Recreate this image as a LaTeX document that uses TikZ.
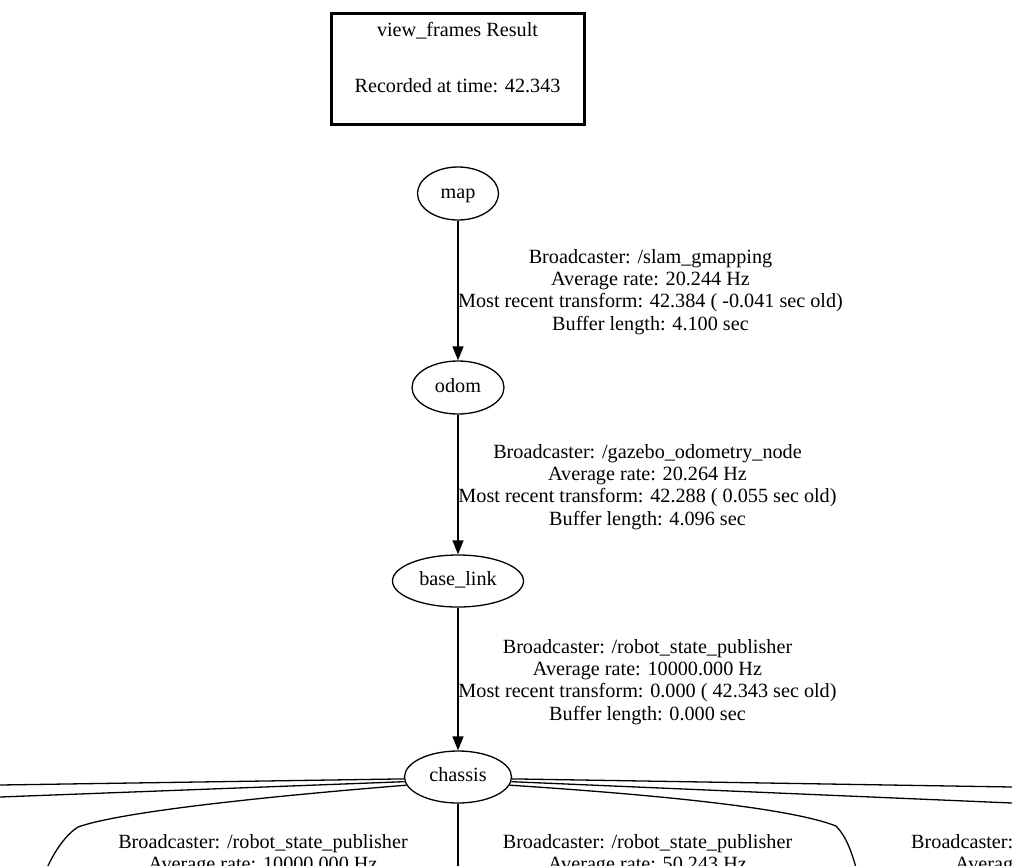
\documentclass[tikz,border=0pt]{standalone}
\usepackage{fontspec}
\setmainfont{Liberation Serif}
\usetikzlibrary{shapes.geometric,arrows.meta}
\newcommand{\gvfont}{\fontsize{20.2}{22.3}\selectfont}

\begin{document}
\begin{tikzpicture}[x=1pt,y=-1pt,
  frame/.style={ellipse,draw,line width=1.3pt,inner sep=0pt,font=\gvfont,text height=14pt,text depth=4.4pt},
  lbl/.style={align=center,inner sep=0pt,font=\gvfont},
  edge/.style={line width=1.3pt,-{Triangle[length=14pt,width=11pt]}},
  wire/.style={line width=1.3pt}]
\useasboundingbox (0,0) rectangle (1012,865);
\clip (0,0) rectangle (1012,865);

% header box
\node[draw,line width=3pt,minimum width=253pt,minimum height=111pt] (result) at (457.5,68.5) {};
\node[lbl] (resulttext) at (457.5,58) {view\_frames Result\\[33.7pt]Recorded at time: 42.343};

% frames
\node[frame,minimum width=81pt,minimum height=53pt] (map) at (458,193.5) {map};
\node[frame,minimum width=92pt,minimum height=53pt] (odom) at (458,387.5) {odom};
\node[frame,minimum width=131pt,minimum height=52pt] (baselink) at (458,581) {base\_link};
\node[frame,minimum width=107pt,minimum height=52pt] (chassis) at (458,777) {chassis};

\draw[edge] (map) -- (odom);
\draw[edge] (odom) -- (baselink);
\draw[edge] (baselink) -- (chassis);

% transform labels
\node[lbl] (tf1) at (650.5,292) {Broadcaster: /slam\_gmapping\\Average rate: 20.244 Hz\\Most recent transform: 42.384 ( -0.041 sec old)\\Buffer length: 4.100 sec};
\node[lbl] (tf2) at (647.5,487) {Broadcaster: /gazebo\_odometry\_node\\Average rate: 20.264 Hz\\Most recent transform: 42.288 ( 0.055 sec old)\\Buffer length: 4.096 sec};
\node[lbl] (tf3) at (647.5,682) {Broadcaster: /robot\_state\_publisher\\Average rate: 10000.000 Hz\\Most recent transform: 0.000 ( 42.343 sec old)\\Buffer length: 0.000 sec};

% children of chassis (cut off)
\node[lbl] (tf4) at (263,855) {Broadcaster: /robot\_state\_publisher\\Average rate: 10000.000 Hz};
\node[lbl] (tf5) at (647.5,855) {Broadcaster: /robot\_state\_publisher\\Average rate: 50.243 Hz};
\node[lbl,anchor=base west] (tf6a) at (911,848.6) {Broadcaster:};
\node[lbl,anchor=base west] (tf6b) at (955,870.9) {Average rate:};

\coordinate (w1) at (0,785);
\coordinate (w2) at (0,797);
\coordinate (w3) at (44,875);
\coordinate (e1) at (1012,787);
\coordinate (e2) at (1012,803);
\coordinate (e3) at (858,875);
\coordinate (s0) at (458,870);

\draw[wire] (chassis.182) -- (w1);
\draw[wire] (chassis.185) -- (w2);
\draw[wire] (chassis.189) .. controls (260,797) and (120,812) .. (78,827) .. controls (64,836) and (52,855) .. (w3);
\draw[wire] (chassis.358) -- (e1);
\draw[wire] (chassis.355) -- (e2);
\draw[wire] (chassis.351) .. controls (660,795) and (790,808) .. (836,826) .. controls (846,836) and (852,852) .. (e3);
\draw[wire] (chassis) -- (s0);
\end{tikzpicture}
\end{document}
